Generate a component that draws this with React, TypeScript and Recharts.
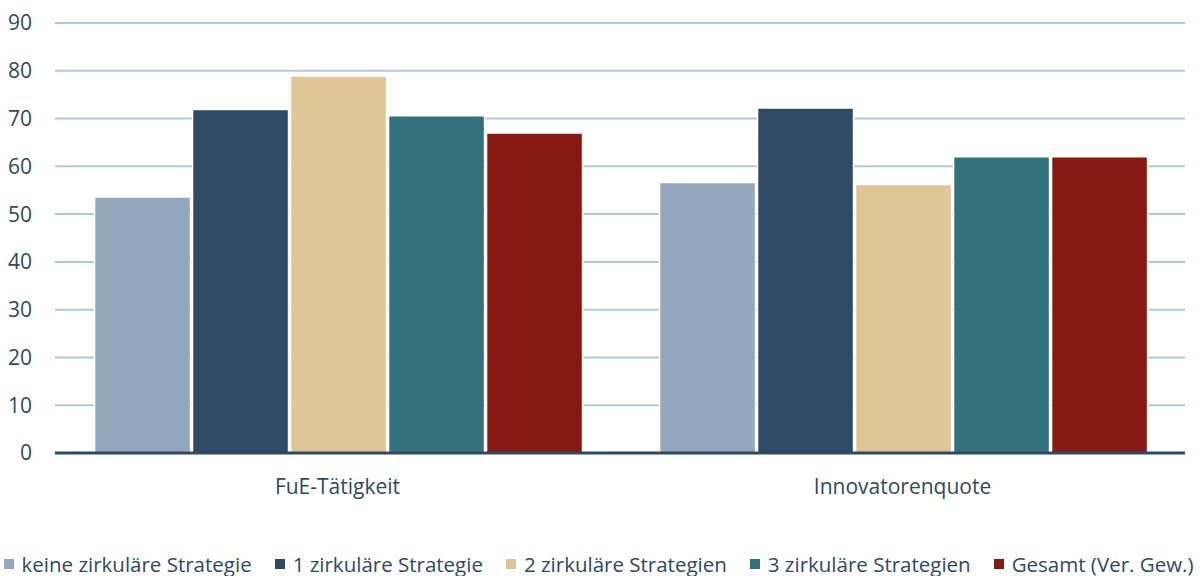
import React from "react";
import { BarChart, Bar, XAxis, YAxis, CartesianGrid, Legend } from "recharts";

const categories = ["FuE-Tätigkeit", "Innovatorenquote"];
const seriesNames = [
  "keine zirkuläre Strategie",
  "1 zirkuläre Strategie",
  "2 zirkuläre Strategien",
  "3 zirkuläre Strategien",
  "Gesamt (Ver. Gew.)",
];
const keine = [53.6, 56.6];
const eins = [71.9, 72.2];
const zwei = [78.9, 56.2];
const drei = [70.6, 62.0];
const gesamt = [67.0, 62.0];
const yTicks = [0, 10, 20, 30, 40, 50, 60, 70, 80, 90];
const colors = ["#93a8bc", "#2e4a64", "#e0c596", "#31727c", "#871812"];

const seriesValues = [keine, eins, zwei, drei, gesamt];
const data = categories.map((c, i) => {
  const row: Record<string, any> = { name: c };
  seriesNames.forEach((s, j) => {
    row[s] = seriesValues[j][i];
  });
  return row;
});

const FONT = "'Open Sans', sans-serif";
const TXT = "#2e4a62";

const LegendContent = () => (
  <div
    style={{
      display: "flex",
      justifyContent: "center",
      alignItems: "center",
      fontFamily: FONT,
      fontSize: 20.5,
      color: TXT,
      paddingTop: 14,
      paddingLeft: 12,
      whiteSpace: "nowrap",
    }}
  >
    {seriesNames.map((s, i) => (
      <span key={s} style={{ display: "inline-flex", alignItems: "center", marginRight: i < 4 ? 23 : 0 }}>
        <span style={{ width: 10, height: 10, background: colors[i], display: "inline-block", marginRight: 8 }} />
        {s}
      </span>
    ))}
  </div>
);

export default function App() {
  return (
    <div style={{ position: "absolute", left: 0, top: 0, width: 1204, height: 576, background: "#fff" }}>
      <BarChart
        width={1204}
        height={576}
        data={data}
        margin={{ top: 23, right: 19, left: 0, bottom: 0 }}
        barCategoryGap="7%"
        barGap={2}
      >
        <CartesianGrid vertical={false} stroke="#b8c7d6" strokeWidth={2} />
        <XAxis
          dataKey="name"
          height={83}
          axisLine={{ stroke: TXT, strokeWidth: 3 }}
          tickLine={false}
          tickMargin={20}
          tick={{ fill: TXT, fontSize: 21, fontFamily: FONT }}
        />
        <YAxis
          width={55}
          domain={[0, 90]}
          ticks={yTicks}
          axisLine={false}
          tickLine={false}
          tickMargin={17}
          tick={{ fill: TXT, fontSize: 21, fontFamily: FONT }}
        />
        <Legend verticalAlign="bottom" height={40} content={<LegendContent />} />
        {seriesNames.map((s, i) => (
          <Bar key={s} dataKey={s} fill={colors[i]} stroke="#ffffff" strokeWidth={1.5} isAnimationActive={false} />
        ))}
      </BarChart>
    </div>
  );
}
